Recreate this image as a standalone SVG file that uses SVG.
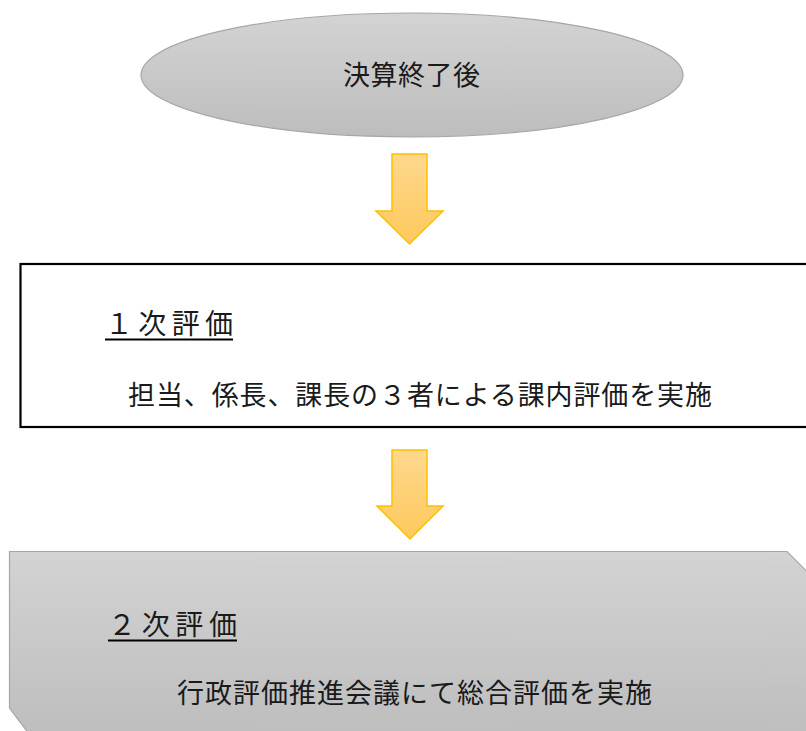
<svg xmlns="http://www.w3.org/2000/svg" width="806" height="731" viewBox="0 0 806 731">
<style>
  .txt { font-family: "Noto Sans CJK JP", "Noto Sans CJK SC", sans-serif; font-size: 27px; fill: #1a1a1a; }
  .head { font-size: 28px; }
  .gray { fill: url(#grayGrad); stroke: #a6a6a6; stroke-width: 1.2; }
  .arrow { fill: url(#arrowGrad); stroke: #ffc000; stroke-width: 1.5; stroke-linejoin: miter; }
  .uline { stroke: #000; stroke-width: 2; }
</style>
<defs>
  <linearGradient id="grayGrad" x1="0" y1="0" x2="0" y2="1">
    <stop offset="0" stop-color="#d3d3d3"/>
    <stop offset="1" stop-color="#bdbdbd"/>
  </linearGradient>
  <linearGradient id="arrowGrad" x1="0" y1="0" x2="0" y2="1">
    <stop offset="0" stop-color="#fed88e"/>
    <stop offset="1" stop-color="#fec95d"/>
  </linearGradient>
</defs>
<rect width="806" height="731" fill="#ffffff"/>

<g id="node-start">
  <ellipse class="gray" cx="412" cy="75" rx="271" ry="62"/>
  <text class="txt" x="343" y="85" textLength="137" lengthAdjust="spacing">決算終了後</text>
</g>

<g id="node-eval1">
  <rect x="20.5" y="264" width="800" height="163" fill="#ffffff" stroke="#000000" stroke-width="2.2"/>
  <text class="txt head" x="105" y="334" textLength="128" lengthAdjust="spacing">１次評価</text>
  <line class="uline" x1="105" y1="339.5" x2="233" y2="339.5"/>
  <text class="txt" x="128" y="405" textLength="584" lengthAdjust="spacing">担当、係長、課長の３者による課内評価を実施</text>
</g>

<g id="node-eval2">
  <path class="gray" d="M9.5,551.5 L787,551.5 L812,576.5 L812,740 L33.5,740 L9.5,708 Z"/>
  <text class="txt head" x="108" y="635" textLength="129" lengthAdjust="spacing">２次評価</text>
  <line class="uline" x1="108" y1="640.5" x2="237" y2="640.5"/>
  <text class="txt" x="177" y="703" textLength="475" lengthAdjust="spacing">行政評価推進会議にて総合評価を実施</text>
</g>

<g id="connectors">
  <path class="arrow" d="M392,154 L427,154 L427,211 L443,211 L409.5,244 L376,211 L392,211 Z"/>
  <path class="arrow" d="M392,450 L427,450 L427,506 L443,506 L410,539 L377,506 L392,506 Z"/>
</g>
</svg>
